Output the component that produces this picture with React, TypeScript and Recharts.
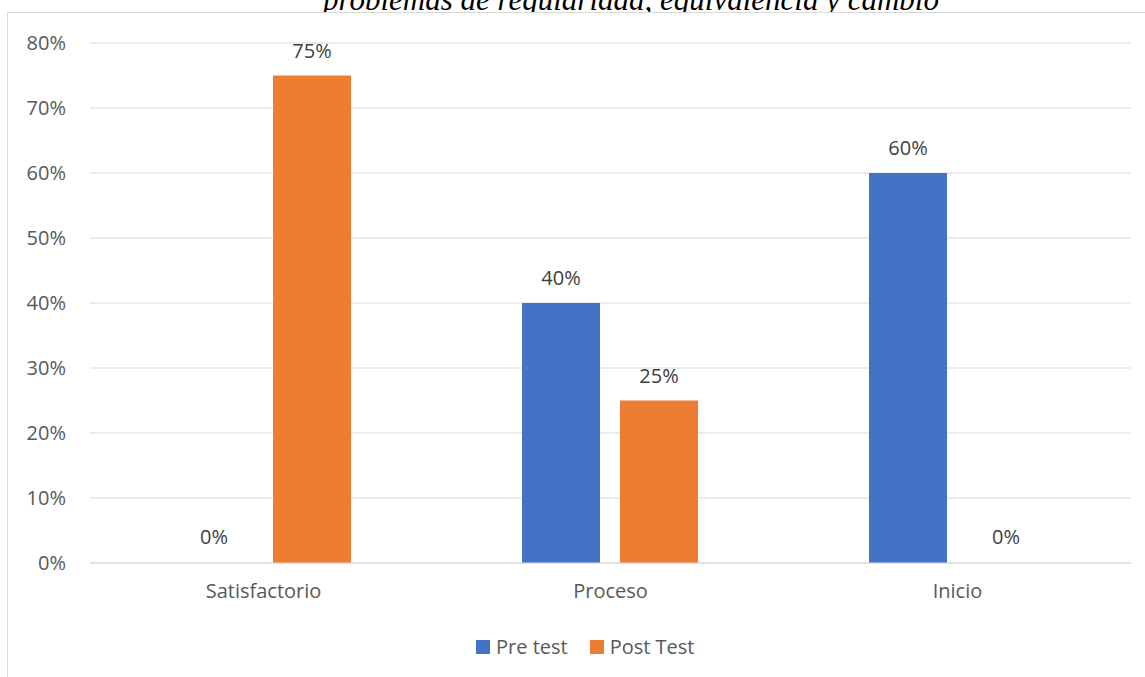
import React from 'react'
import { BarChart, Bar, XAxis, YAxis, CartesianGrid, LabelList, Cell } from 'recharts'

const categories = ['Satisfactorio', 'Proceso', 'Inicio']
const preTest = [0, 40, 60]
const postTest = [75, 25, 0]
const yTicks = [0, 10, 20, 30, 40, 50, 60, 70, 80]
const seriesInfo = [
  { key: 'pre', name: 'Pre test', color: '#4472C4', values: preTest },
  { key: 'post', name: 'Post Test', color: '#ED7D31', values: postTest }
]

const data = categories.map((name, i) => ({ name, pre: preTest[i], post: postTest[i] }))

const font = '"Open Sans", sans-serif'
const pct = (v: any) => `${v}%`

// value label above each bar (zero bars too)
const TopLabel = (props: any) => {
  const { x, y, width, value } = props
  if (x == null || y == null) return null
  return (
    <text x={Number(x) + Number(width) / 2} y={Number(y) - 18} textAnchor="middle" fill="#404040" fontSize={20} fontFamily={font}>
      {pct(value)}
    </text>
  )
}

const App: React.FC = () => {
  return (
    <div style={{ position: 'absolute', left: 0, top: 0, width: 1145, height: 677, overflow: 'hidden', background: '#fff' }}>
      {/* cropped caption above the frame */}
      <div
        style={{
          position: 'absolute',
          left: 0,
          width: 1262,
          top: -18,
          textAlign: 'center',
          fontFamily: '"Liberation Serif", serif',
          fontStyle: 'italic',
          fontSize: 31,
          whiteSpace: 'nowrap',
          color: '#000'
        }}
      >
        problemas de regularidad, equivalencia y cambio
      </div>

      {/* chart frame, cropped on right and bottom */}
      <div style={{ position: 'absolute', left: 7, top: 12, width: 1200, height: 720, border: '1.5px solid #d9d9d9', background: '#fff' }} />

      <div style={{ position: 'absolute', left: 0, top: 0 }}>
        <BarChart
          width={1145}
          height={677}
          data={data}
          margin={{ top: 43, right: 14, bottom: 84, left: 0 }}
          barCategoryGap="24.5%"
          barGap={20}
        >
          <CartesianGrid vertical={false} stroke="#d9d9d9" />
          {seriesInfo.map((s) => (
            <Bar key={s.key} dataKey={s.key} name={s.name} fill={s.color} minPointSize={1} isAnimationActive={false}>
              {s.values.map((v, i) => (
                <Cell key={i} fill={v === 0 ? 'transparent' : s.color} />
              ))}
              <LabelList dataKey={s.key} content={<TopLabel />} />
            </Bar>
          ))}
          <XAxis
            dataKey="name"
            height={30}
            axisLine={{ stroke: '#d9d9d9' }}
            tickLine={false}
            tickSize={0}
            tickMargin={21}
            tick={{ fill: '#595959', fontSize: 20, fontFamily: font }}
          />
          <YAxis
            width={90}
            domain={[0, 80]}
            ticks={yTicks}
            tickFormatter={pct}
            axisLine={false}
            tickLine={false}
            tickSize={0}
            tickMargin={24}
            tick={{ fill: '#595959', fontSize: 20, fontFamily: font }}
          />
        </BarChart>
      </div>

      {/* legend */}
      <div
        style={{
          position: 'absolute',
          left: 476,
          top: 633,
          display: 'flex',
          alignItems: 'center',
          fontFamily: font,
          fontSize: 20,
          color: '#595959',
          whiteSpace: 'nowrap'
        }}
      >
        {seriesInfo.map((s, i) => (
          <div key={s.key} style={{ display: 'flex', alignItems: 'center', marginLeft: i ? 22 : 0 }}>
            <span style={{ display: 'inline-block', width: 14, height: 14, background: s.color, marginRight: 6 }} />
            <span>{s.name}</span>
          </div>
        ))}
      </div>
    </div>
  )
}

export default App
